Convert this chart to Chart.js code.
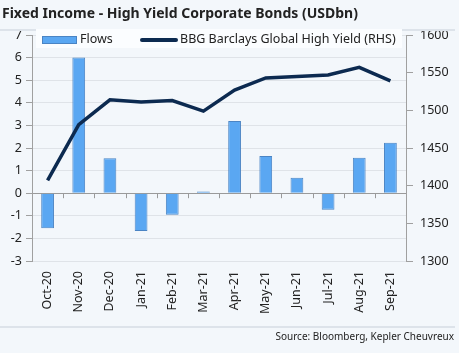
<!DOCTYPE html>
<html lang="en">
<head>
    <meta charset="UTF-8">
    <title>Fixed Income - High Yield Corporate Bonds</title>
    <script src="https://cdn.jsdelivr.net/npm/chart.js"></script>
</head>
<style>
    body{
        margin: 0;
        background: #f3f7fb;
        font-family: "Noto Sans", sans-serif;
    }
    #wrap{
        position: relative;
        width: 459px;
        height: 353px;
    }
    h1{
        position: absolute;
        margin: 0;
        left: 2px;
        top: 3px;
        font-size: 14px;
        color: #222;
    }
    .rule{
        position: absolute;
        left: 0;
        width: 455px;
        border-top: 2px solid #dde3ea;
    }
    #legend{
        position: absolute;
        left: 36px;
        top: 29px;
        width: 366px;
        height: 19px;
        background: #fbfdff;
        font-size: 12.5px;
        color: #222;
    }
    #legend span{ position: absolute; top: 1px; }
    .sw{ position: absolute; }
    #source{
        position: absolute;
        right: 5px;
        top: 329px;
        font-size: 10px;
        color: #222;
    }
    canvas{ position: absolute; left: 0; top: 0; }
</style>
<body>
<div id="wrap">
    <canvas id="myChart" width="459" height="353"></canvas>
    <h1>Fixed Income - High Yield Corporate Bonds (USDbn)</h1>
    <div class="rule" style="top:29px"></div>
    <div id="legend">
        <div class="sw" style="left:6px;top:7px;width:33px;height:6px;background:#5aa7f2;border:1px solid #4a84c4"></div>
        <span style="left:44px">Flows</span>
        <div class="sw" style="left:104px;top:9px;width:38px;height:4px;background:#0c2a50;border-radius:2px"></div>
        <span style="left:144px">BBG Barclays Global High Yield (RHS)</span>
    </div>
    <div class="rule" style="top:326px"></div>
    <div id="source">Source: Bloomberg, Kepler Cheuvreux</div>
</div>

<script>
    const months = ['Oct-20', 'Nov-20', 'Dec-20', 'Jan-21', 'Feb-21', 'Mar-21',
                    'Apr-21', 'May-21', 'Jun-21', 'Jul-21', 'Aug-21', 'Sep-21'];
    const flows = [-1.55, 6.0, 1.55, -1.67, -0.95, 0.08, 3.2, 1.65, 0.68, -0.73, 1.57, 2.23];
    const hyIndex = [1407, 1481, 1514, 1511, 1513, 1499, 1527, 1543, 1545, 1547, 1557, 1539];

    // small ticks under the zero line, between the months
    const zeroTicks = {
        id: 'zeroTicks',
        beforeDatasetsDraw(chart) {
            const x = chart.scales.x, y = chart.scales.y;
            const ctx = chart.ctx;
            const y0 = y.getPixelForValue(0);
            const step = x.getPixelForValue(1) - x.getPixelForValue(0);
            ctx.save();
            ctx.strokeStyle = '#9a9a9a';
            ctx.lineWidth = 1;
            ctx.beginPath();
            for (let i = 1; i < months.length; i++) {
                const px = Math.round(x.getPixelForValue(i) - step / 2) + 0.5;
                ctx.moveTo(px, y0);
                ctx.lineTo(px, y0 + 5);
            }
            ctx.stroke();
            ctx.restore();
        }
    };

    const ctx = document.getElementById('myChart').getContext('2d');
    new Chart(ctx, {
        data: {
            labels: months,
            datasets: [{
                type: 'line',
                label: 'BBG Barclays Global High Yield (RHS)',
                data: hyIndex,
                yAxisID: 'y1',
                borderColor: '#0c2a50',
                borderWidth: 3.5,
                pointRadius: 0,
                tension: 0,
                order: 0
            }, {
                type: 'bar',
                label: 'Flows',
                data: flows,
                yAxisID: 'y',
                backgroundColor: '#5aa7f2',
                borderColor: '#4a84c4',
                borderWidth: 1,
                barPercentage: 0.41,
                categoryPercentage: 1,
                order: 1
            }]
        },
        options: {
            responsive: false,
            animation: false,
            layout: { padding: { top: 35, left: 0, right: 0, bottom: 0 } },
            plugins: {
                legend: { display: false },
                tooltip: { enabled: false }
            },
            scales: {
                x: {
                    offset: true,
                    afterFit(s) { s.height = 92; },
                    border: { display: false },
                    grid: { drawOnChartArea: false, drawTicks: false },
                    ticks: {
                        minRotation: 90, maxRotation: 90,
                        padding: 10,
                        color: '#222',
                        font: { family: 'Noto Sans', size: 12.5 }
                    }
                },
                y: {
                    position: 'left',
                    min: -3, max: 7,
                    afterFit(s) { s.width = 32; },
                    border: { color: '#a0a0a0' },
                    grid: {
                        color: c => c.tick && c.tick.value === 0 ? '#9a9a9a' : '#dfe3e8',
                        tickColor: '#a0a0a0',
                        tickLength: 6
                    },
                    ticks: {
                        stepSize: 1,
                        padding: 4,
                        color: '#222',
                        font: { family: 'Noto Sans', size: 12.5 }
                    }
                },
                y1: {
                    position: 'right',
                    min: 1300, max: 1600,
                    afterFit(s) { s.width = 53; },
                    border: { color: '#a0a0a0' },
                    grid: { drawOnChartArea: false, tickColor: '#a0a0a0', tickLength: 7 },
                    ticks: {
                        stepSize: 50,
                        padding: 7,
                        color: '#222',
                        font: { family: 'Noto Sans', size: 12.5 },
                        callback: v => String(v)
                    }
                }
            }
        },
        plugins: [zeroTicks]
    });
</script>
</body>
</html>
